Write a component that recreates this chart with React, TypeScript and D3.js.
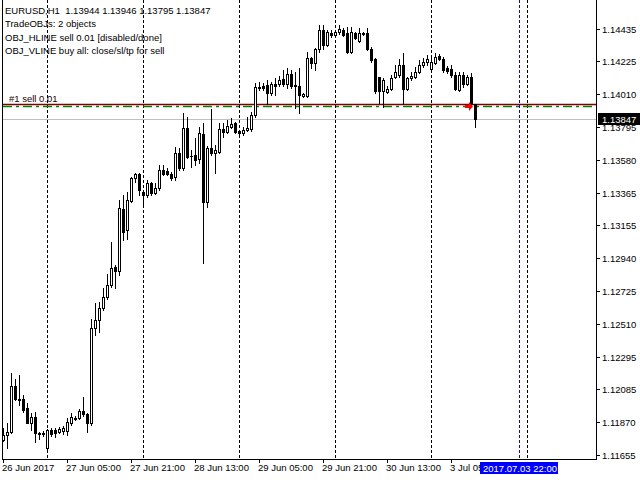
import React from 'react';
import * as d3 from 'd3';

const W = 640;
const H = 480;

// OHLC of EURUSD H1 bars, 26 Jun 2017 13:00 .. 3 Jul 2017 11:00
const barOpen = [
  1.11753, 1.11785, 1.11805, 1.12105, 1.12020, 1.12020, 1.11962, 1.11864, 1.11903, 1.11798,
  1.11795, 1.11701, 1.11818, 1.11818, 1.11805, 1.11811, 1.11811, 1.11864, 1.11896, 1.11896,
  1.11942, 1.11922, 1.11864, 1.12484, 1.12536, 1.12614, 1.12686, 1.12764, 1.12882, 1.12856,
  1.13260, 1.13123, 1.13312, 1.13462, 1.13489, 1.13371, 1.13351, 1.13430, 1.13365, 1.13397,
  1.13515, 1.13508, 1.13489, 1.13469, 1.13626, 1.13528, 1.13789, 1.13606, 1.13613, 1.13586,
  1.13750, 1.13306, 1.13658, 1.13626, 1.13632, 1.13782, 1.13763, 1.13795, 1.13821, 1.13769,
  1.13756, 1.13776, 1.13782, 1.13874, 1.14056, 1.14063, 1.14070, 1.14017, 1.14076, 1.14076,
  1.14109, 1.14076, 1.14141, 1.14070, 1.14063, 1.13998, 1.13998, 1.14246, 1.14213, 1.14305,
  1.14429, 1.14331, 1.14409, 1.14396, 1.14416, 1.14429, 1.14409, 1.14285, 1.14409, 1.14357,
  1.14409, 1.14409, 1.14305, 1.14239, 1.14122, 1.14030, 1.14024, 1.14043, 1.14122, 1.14135,
  1.14200, 1.14043, 1.14115, 1.14122, 1.14154, 1.14200, 1.14220, 1.14174, 1.14213, 1.14259,
  1.14239, 1.14181, 1.14174, 1.14135, 1.14037, 1.14135, 1.14076, 1.14122, 1.13944,
];
const barHigh = [
  1.11831, 1.11864, 1.12190, 1.12151, 1.12177, 1.12046, 1.11994, 1.11929, 1.11935, 1.11805,
  1.11811, 1.11824, 1.11831, 1.11831, 1.11838, 1.11844, 1.11896, 1.11929, 1.11909, 1.11955,
  1.12033, 1.11929, 1.12542, 1.12647, 1.12653, 1.12745, 1.12836, 1.13045, 1.12895, 1.13319,
  1.13351, 1.13371, 1.13469, 1.13495, 1.13495, 1.13384, 1.13449, 1.13436, 1.13430, 1.13547,
  1.13547, 1.13528, 1.13502, 1.13665, 1.13658, 1.13887, 1.13861, 1.13645, 1.13723, 1.13795,
  1.13821, 1.13671, 1.13913, 1.13678, 1.13821, 1.13821, 1.13841, 1.13854, 1.13828, 1.13776,
  1.13795, 1.13861, 1.13893, 1.14083, 1.14089, 1.14083, 1.14102, 1.14089, 1.14115, 1.14128,
  1.14167, 1.14181, 1.14167, 1.14154, 1.14181, 1.14017, 1.14285, 1.14252, 1.14311, 1.14461,
  1.14461, 1.14429, 1.14429, 1.14429, 1.14461, 1.14442, 1.14448, 1.14448, 1.14416, 1.14442,
  1.14416, 1.14442, 1.14318, 1.14246, 1.14122, 1.14115, 1.14063, 1.14135, 1.14200, 1.14239,
  1.14278, 1.14122, 1.14154, 1.14187, 1.14233, 1.14246, 1.14265, 1.14246, 1.14278, 1.14272,
  1.14252, 1.14193, 1.14200, 1.14154, 1.14154, 1.14154, 1.14135, 1.14148, 1.13946,
];
const barLow = [
  1.11746, 1.11701, 1.11798, 1.12014, 1.11981, 1.11935, 1.11864, 1.11818, 1.11740, 1.11759,
  1.11779, 1.11694, 1.11779, 1.11772, 1.11798, 1.11792, 1.11785, 1.11851, 1.11883, 1.11890,
  1.11909, 1.11805, 1.11851, 1.12438, 1.12458, 1.12601, 1.12673, 1.12751, 1.12745, 1.12829,
  1.13058, 1.13064, 1.13306, 1.13436, 1.13351, 1.13286, 1.13338, 1.13351, 1.13358, 1.13384,
  1.13482, 1.13482, 1.13449, 1.13449, 1.13515, 1.13515, 1.13593, 1.13534, 1.13547, 1.13560,
  1.12908, 1.13273, 1.13613, 1.13495, 1.13626, 1.13730, 1.13756, 1.13789, 1.13756, 1.13750,
  1.13743, 1.13769, 1.13769, 1.13861, 1.14037, 1.14037, 1.13945, 1.14004, 1.14004, 1.14063,
  1.14063, 1.14050, 1.14050, 1.13919, 1.13887, 1.13991, 1.13991, 1.14181, 1.14167, 1.14285,
  1.14305, 1.14324, 1.14383, 1.14389, 1.14402, 1.14389, 1.14278, 1.14278, 1.14370, 1.14350,
  1.14396, 1.14298, 1.14220, 1.14017, 1.13952, 1.13926, 1.14017, 1.14037, 1.14115, 1.14122,
  1.13945, 1.14037, 1.14102, 1.14115, 1.14148, 1.14187, 1.14200, 1.14167, 1.14207, 1.14233,
  1.14154, 1.14148, 1.14122, 1.14037, 1.14030, 1.14056, 1.14070, 1.13939, 1.13795,
];
const barClose = [
  1.11785, 1.11805, 1.12105, 1.12020, 1.12017, 1.11948, 1.11864, 1.11903, 1.11798, 1.11795,
  1.11798, 1.11818, 1.11792, 1.11798, 1.11824, 1.11831, 1.11870, 1.11903, 1.11890, 1.11942,
  1.11922, 1.11864, 1.12484, 1.12536, 1.12614, 1.12686, 1.12764, 1.12875, 1.12856, 1.13267,
  1.13110, 1.13319, 1.13462, 1.13489, 1.13384, 1.13351, 1.13430, 1.13365, 1.13397, 1.13515,
  1.13489, 1.13489, 1.13462, 1.13626, 1.13528, 1.13789, 1.13599, 1.13603, 1.13580, 1.13756,
  1.13306, 1.13658, 1.13626, 1.13645, 1.13782, 1.13763, 1.13802, 1.13815, 1.13763, 1.13756,
  1.13776, 1.13789, 1.13874, 1.14056, 1.14053, 1.14050, 1.14017, 1.14076, 1.14063, 1.14102,
  1.14076, 1.14141, 1.14063, 1.14060, 1.14004, 1.14010, 1.14246, 1.14213, 1.14305, 1.14429,
  1.14331, 1.14416, 1.14396, 1.14416, 1.14435, 1.14396, 1.14285, 1.14416, 1.14376, 1.14409,
  1.14402, 1.14305, 1.14233, 1.14030, 1.14030, 1.14102, 1.14043, 1.14115, 1.14154, 1.14200,
  1.14043, 1.14115, 1.14128, 1.14154, 1.14200, 1.14220, 1.14239, 1.14220, 1.14252, 1.14239,
  1.14167, 1.14161, 1.14135, 1.14043, 1.14135, 1.14076, 1.14122, 1.13945, 1.13847,
];

const priceTicks = [
  1.14435, 1.14225, 1.14010, 1.13795, 1.13580, 1.13365, 1.13155,
  1.12940, 1.12725, 1.12510, 1.12295, 1.12085, 1.11870, 1.11655,
];
const timeTickBars = [0, 16, 32, 48, 64, 80, 96, 112];
const timeTickLabels = [
  '26 Jun 2017', '27 Jun 05:00', '27 Jun 21:00', '28 Jun 13:00',
  '29 Jun 05:00', '29 Jun 21:00', '30 Jun 13:00', '3 Jul 05:00',
];
const daySeparatorBars = [11, 35, 59, 83, 107, 131];
const vlineBar = 129;
const vlineLabel = '2017.07.03 22:00';
const headerLines = [
  'EURUSD,H1  1.13944 1.13946 1.13795 1.13847',
  'TradeOBJs: 2 objects',
  'OBJ_HLINE sell 0.01 [disabled/done]',
  'OBJ_VLINE buy all: close/sl/tp for sell',
];
const orderPrice = 1.13944;
const orderLabel = '#1 sell 0.01';
const orderBar = 116.5;
const hlinePrice = 1.1393;
const bidPrice = 1.13847;

const FONT = "'Liberation Sans', Arial, sans-serif";

export default function App() {
  const plotLeft = 2;
  const plotRight = 596;
  const plotBottom = 459;

  const x = d3.scaleLinear().domain([0, 118]).range([3, 475]);
  const y = d3.scaleLinear().domain([1.11655, 1.14435]).range([455, 29]);

  const px = (i: number) => Math.round(x(i));
  const py = (p: number) => Math.round(y(p));

  const bars = d3.range(barOpen.length);
  const yBid = py(bidPrice);
  const yOrder = py(orderPrice);
  const yHline = py(hlinePrice);
  const ax = Math.round(x(orderBar));

  return (
    <svg
      width={W}
      height={H}
      style={{ position: 'fixed', left: 0, top: 0, background: '#fff' }}
      fontFamily={FONT}
    >
      <rect x={0} y={0} width={W} height={H} fill="#fff" />

      {/* day separators */}
      {daySeparatorBars.map((b) => (
        <line
          key={'sep' + b}
          x1={px(b) + 0.5}
          x2={px(b) + 0.5}
          y1={0}
          y2={plotBottom}
          stroke="#000"
          strokeDasharray="3,2"
        />
      ))}
      {/* vertical object line */}
      <line
        x1={px(vlineBar) + 0.5}
        x2={px(vlineBar) + 0.5}
        y1={0}
        y2={plotBottom}
        stroke="#0000ff"
        strokeDasharray="3,2"
      />

      {/* bid line */}
      <line x1={plotLeft} x2={plotRight} y1={yBid + 0.5} y2={yBid + 0.5} stroke="#c0c0c0" />

      {/* order line and horizontal object line */}
      <line x1={plotLeft + 1} x2={plotRight} y1={yOrder + 0.5} y2={yOrder + 0.5} stroke="#800000" strokeWidth={1.3} />
      <line
        x1={plotLeft + 1}
        x2={plotRight}
        y1={yHline + 0.5}
        y2={yHline + 0.5}
        stroke="#008000"
        strokeWidth={1.5}
        strokeDasharray="9,4,3,4"
      />
      <text x={9} y={yOrder - 2} fontSize={9.5} fill="#200000">
        {orderLabel}
      </text>

      {/* candles */}
      {bars.map((i) => {
        const cx = px(i);
        const o = barOpen[i];
        const c = barClose[i];
        const yh = py(barHigh[i]);
        const yl = py(barLow[i]);
        const yTop = py(Math.max(o, c));
        const yBot = py(Math.min(o, c));
        const bull = c > o;
        const h = yBot - yTop;
        return (
          <g key={'c' + i}>
            <line x1={cx + 0.5} x2={cx + 0.5} y1={yh} y2={yl + 1} stroke="#000" />
            {h <= 0 ? (
              <line x1={cx - 1} x2={cx + 2} y1={yTop + 0.5} y2={yTop + 0.5} stroke="#000" />
            ) : bull ? (
              <rect x={cx - 0.5} y={yTop + 0.5} width={2} height={h} fill="#fff" stroke="#000" />
            ) : (
              <rect x={cx - 1} y={yTop} width={3} height={h + 1} fill="#000" />
            )}
          </g>
        );
      })}

      {/* order arrow */}
      <path
        d={`M${ax - 4},${yHline - 1} L${ax},${yHline - 1} L${ax},${yHline - 4} L${ax + 4},${yHline + 0.5} L${ax},${yHline + 5} L${ax},${yHline + 2} L${ax - 4},${yHline + 2} Z`}
        fill="#ff0000"
      />

      {/* frame */}
      <line x1={plotLeft + 0.5} x2={plotLeft + 0.5} y1={0} y2={plotBottom + 0.5} stroke="#000" />
      <line x1={plotRight + 0.5} x2={plotRight + 0.5} y1={0} y2={plotBottom + 0.5} stroke="#000" />
      <line x1={plotLeft} x2={plotRight + 1} y1={plotBottom + 0.5} y2={plotBottom + 0.5} stroke="#000" />

      {/* price axis */}
      {priceTicks.map((p) => (
        <g key={'pt' + p}>
          <line x1={plotRight + 1} x2={plotRight + 4} y1={py(p) + 0.5} y2={py(p) + 0.5} stroke="#000" />
          <text x={602} y={py(p) + 4} fontSize={9.5} fill="#000">
            {p.toFixed(5)}
          </text>
        </g>
      ))}
      <rect x={598} y={yBid - 6} width={42} height={12} fill="#000" />
      <text x={602} y={yBid + 4} fontSize={9.5} fill="#fff">
        {bidPrice.toFixed(5)}
      </text>

      {/* time axis */}
      {timeTickBars.map((b, k) => (
        <g key={'tt' + b}>
          <line x1={px(b) + 0.5} x2={px(b) + 0.5} y1={plotBottom} y2={plotBottom + 4} stroke="#000" />
          <text x={px(b) - 1} y={471} fontSize={9.5} fill="#000">
            {timeTickLabels[k]}
          </text>
        </g>
      ))}
      <rect x={480} y={462} width={78} height={12} fill="#0000ff" />
      <text x={483} y={471.5} fontSize={9.5} fill="#fff">
        {vlineLabel}
      </text>

      {/* header */}
      {headerLines.map((t, k) => (
        <text key={'h' + k} x={5} y={14 + k * 13.4} fontSize={9.5} fill="#000" style={{ whiteSpace: 'pre' }}>
          {t}
        </text>
      ))}
    </svg>
  );
}
